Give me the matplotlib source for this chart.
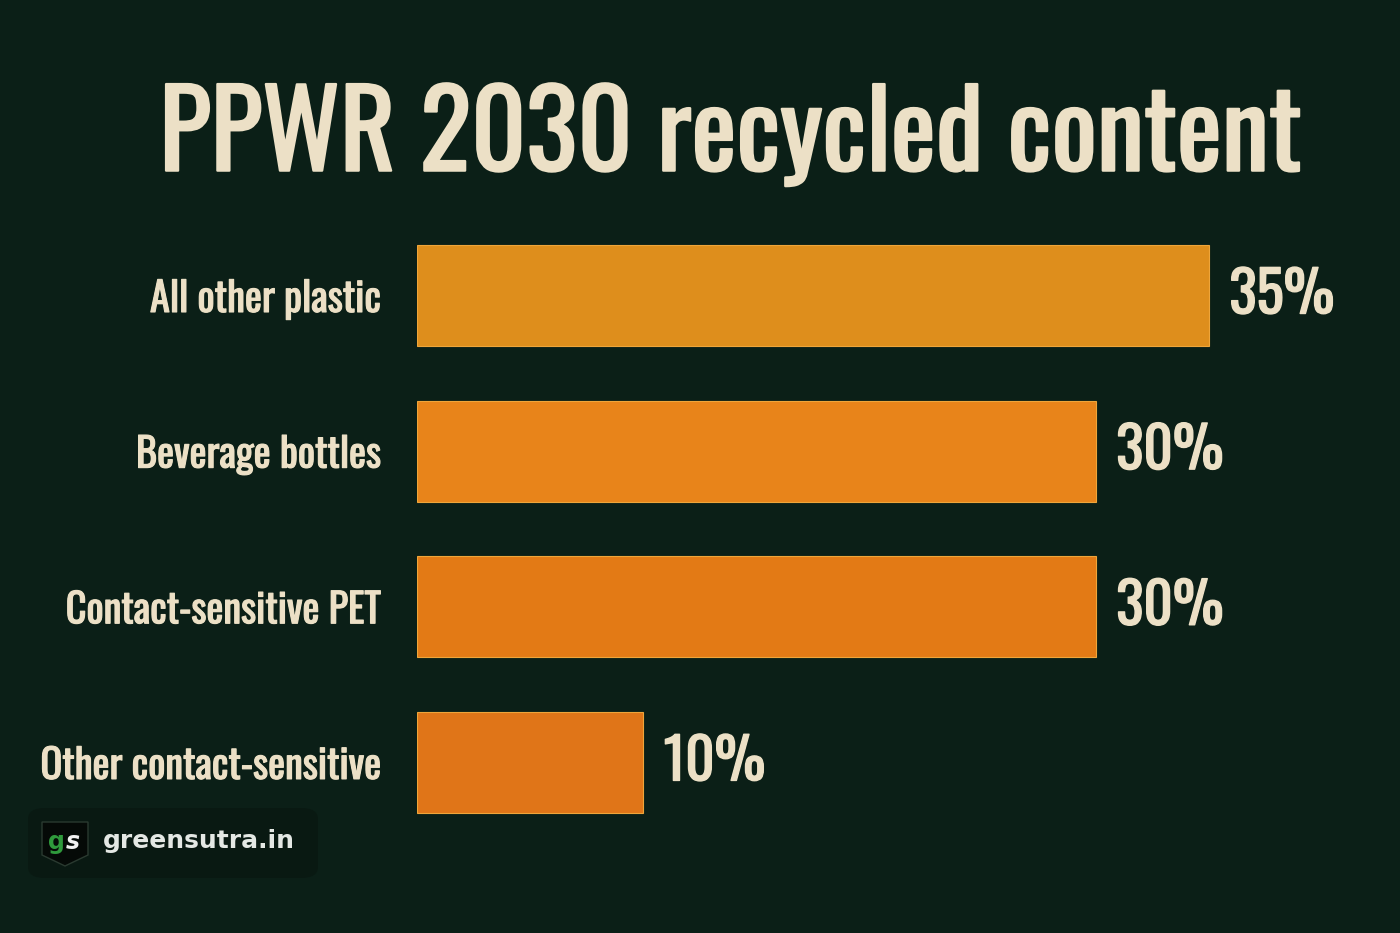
import matplotlib
matplotlib.use("Agg")
import matplotlib.pyplot as plt
import matplotlib.patheffects as pe
from matplotlib.patches import FancyBboxPatch, Polygon

# Data
categories = ["All other plastic", "Beverage bottles", "Contact-sensitive PET", "Other contact-sensitive"]
values = [35, 30, 30, 10]
value_labels = ["35%", "30%", "30%", "10%"]
bar_colors = ["#de8e1c", "#e8841a", "#e37a15", "#e07518"]
title = "PPWR 2030 recycled content"
brand = "greensutra.in"

BG = "#0b1f17"
CREAM = "#ece0c6"
FONT = ["Oswald", "DejaVu Sans"]

# thicken the light Oswald a little
def heavier(lw):
    return [pe.withStroke(linewidth=lw, foreground=CREAM)]

fig = plt.figure(figsize=(14, 9.33), dpi=100, facecolor=BG)
ax = fig.add_axes([417 / 1400, 0.0994, (22.63 * 40) / 1400, 0.6673])
ax.set_facecolor(BG)

y = range(len(categories))
ax.barh(y, values, height=0.65, color=bar_colors, edgecolor="#efa53a", linewidth=0.8)
ax.set_xlim(0, 40)
ax.set_ylim(3.5, -0.5)

ax.set_yticks(list(y))
ax.set_yticklabels(categories, family=FONT, fontsize=29, color=CREAM)
for t in ax.get_yticklabels():
    t.set_path_effects(heavier(0.8))
ax.tick_params(axis="y", length=0, pad=26)
ax.set_xticks([])
for s in ax.spines.values():
    s.set_visible(False)

for i, (v, lab) in enumerate(zip(values, value_labels)):
    ax.text(v + 0.9, i, lab, va="center", ha="left", family=FONT,
            fontsize=41, color=CREAM, path_effects=heavier(1.0))

fig.text(0.522, 0.853, title, ha="center", va="center", family=FONT,
         fontsize=77, color=CREAM, path_effects=heavier(1.6))

# brand badge
fig.patches.append(FancyBboxPatch((28 / 1400, 1 - 878 / 933), 290 / 1400, 70 / 933,
                                  boxstyle="round,pad=0,rounding_size=0.012",
                                  transform=fig.transFigure, facecolor="#091912",
                                  edgecolor="none"))
shield = [(42, 822), (88, 822), (88, 855), (65, 866), (42, 855)]
fig.patches.append(Polygon([(px / 1400, 1 - py / 933) for px, py in shield],
                           closed=True, transform=fig.transFigure,
                           facecolor="#050a07", edgecolor="#2a3a30", linewidth=1))
fig.text(56 / 1400, 1 - 842 / 933, "g", ha="center", va="center", fontsize=17,
         fontweight="bold", color="#2f9a3c", family="DejaVu Sans")
fig.text(73 / 1400, 1 - 842 / 933, "s", ha="center", va="center", fontsize=17,
         fontweight="bold", color="#f2f2f2", family="DejaVu Sans", style="italic")
fig.text(103 / 1400, 1 - 841 / 933, brand, ha="left", va="center", fontsize=18,
         fontweight="bold", color="#e4e8e4", family="DejaVu Sans")

fig.savefig("out.png", dpi=100, facecolor=BG)
